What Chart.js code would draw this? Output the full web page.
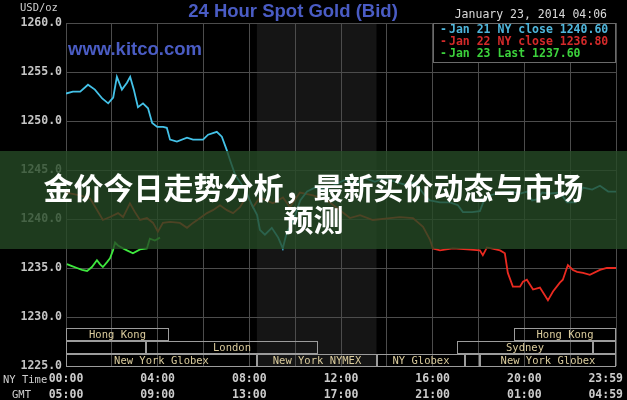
<!DOCTYPE html>
<html>
<head>
<meta charset="utf-8">
<script src="https://cdn.jsdelivr.net/npm/chart.js@4"></script>
<style>
html, body { margin: 0; padding: 0; background: #000; }
#wrap { position: relative; width: 627px; height: 400px; overflow: hidden; }
#banner {
    position: absolute; left: 0; top: 151px; width: 627px; height: 98px;
    background: rgba(38, 74, 38, 0.8); color: #fff; text-align: center;
    font: bold 30px "Noto Sans CJK SC", sans-serif; line-height: 32px;
    box-sizing: border-box; padding-top: 19px;
}
</style>
</head>
<body>
<div id="wrap">
    <canvas id="goldChart" width="627" height="400"></canvas>
    <div id="banner">金价今日走势分析，最新买价动态与市场<br>预测</div>
</div>
<script>
// hours since 00:00 NY time, price USD/oz
const jan21Hours = [0, 0.3, 0.62, 0.96, 1.26, 1.58, 1.84, 2.06, 2.22, 2.44, 2.66, 2.8, 2.96, 3.14, 3.36, 3.58, 3.76, 3.98, 4.24, 4.4, 4.54, 4.84, 5.28, 5.54, 5.98, 6.2, 6.58, 6.8, 7.02, 7.16, 7.38, 7.82, 8.12, 8.34, 8.46, 8.68, 8.98, 9.26, 9.46, 9.64, 9.9, 10.22, 10.52, 10.86, 11.3, 11.74, 12.18, 12.62, 13.04, 13.48, 13.92, 14.36, 14.8, 15.24, 15.66, 15.88, 16.32, 16.76, 17.1, 17.32, 17.72, 18.06, 18.24, 18.5, 18.94, 19.38, 19.82, 20.12, 20.34, 20.56, 20.78, 21.12, 21.56, 21.86, 22.22, 22.56, 22.96, 23.3, 23.66, 24];
const jan21Values = [1252.8, 1253.0, 1253.0, 1253.7, 1253.2, 1252.3, 1251.8, 1252.4, 1254.5, 1253.2, 1253.9, 1254.5, 1253.2, 1251.4, 1251.8, 1251.3, 1249.8, 1249.4, 1249.4, 1249.3, 1248.1, 1247.9, 1248.3, 1248.1, 1248.1, 1248.6, 1248.9, 1248.4, 1247.0, 1246.0, 1244.5, 1243.0, 1241.4, 1240.4, 1238.9, 1238.4, 1239.1, 1238.1, 1237.0, 1238.7, 1239.7, 1241.9, 1242.8, 1243.2, 1243.0, 1243.5, 1244.0, 1243.5, 1244.2, 1243.8, 1244.2, 1243.8, 1243.5, 1243.7, 1242.4, 1241.9, 1241.7, 1241.7, 1241.4, 1240.7, 1240.7, 1240.8, 1241.9, 1242.4, 1242.7, 1242.8, 1242.6, 1242.8, 1241.9, 1242.0, 1242.7, 1242.6, 1242.7, 1241.7, 1241.7, 1243.2, 1243.0, 1243.4, 1242.8, 1242.8];

const jan22Hours = [0, 0.61, 1.05, 1.18, 1.61, 1.92, 2.27, 2.49, 2.79, 3.01, 3.23, 3.53, 3.8, 4.01, 4.23, 4.54, 4.97, 5.28, 5.54, 5.85, 6.15, 6.41, 6.72, 7.02, 7.29, 7.59, 7.9, 8.16, 8.46, 9.03, 9.47, 9.77, 10.21, 10.78, 11.39, 11.95, 12.39, 12.83, 13.39, 14.14, 14.57, 15.14, 15.58, 15.88, 16.01, 16.32, 16.88, 17.5, 18.06, 18.19, 18.37, 18.94, 19.15, 19.28, 19.5, 19.81, 19.94, 20.11, 20.38, 20.68, 21.03, 21.25, 21.55, 21.68, 21.9, 22.12, 22.3, 22.56, 22.86, 23.3, 23.6, 24];
const jan22Values = [1242.7, 1242.4, 1242.1, 1241.6, 1239.9, 1240.2, 1240.6, 1240.2, 1241.6, 1240.7, 1239.9, 1240.1, 1239.6, 1238.7, 1239.6, 1239.7, 1239.6, 1239.1, 1239.6, 1240.1, 1240.6, 1240.9, 1241.4, 1240.9, 1240.6, 1241.2, 1242.4, 1241.2, 1242.2, 1241.6, 1242.2, 1241.2, 1242.7, 1242.4, 1241.9, 1240.9, 1240.1, 1240.4, 1239.9, 1240.1, 1240.2, 1240.1, 1239.2, 1237.9, 1237.0, 1236.8, 1237.0, 1236.9, 1236.8, 1236.3, 1237.1, 1236.8, 1236.5, 1234.5, 1233.1, 1233.1, 1233.6, 1233.8, 1232.8, 1233.0, 1231.7, 1232.6, 1233.5, 1233.8, 1235.3, 1234.8, 1234.6, 1234.5, 1234.3, 1234.8, 1235.0, 1235.0];

const jan23Hours = [0.04, 0.26, 0.48, 0.7, 0.92, 1.13, 1.35, 1.48, 1.61, 1.79, 1.92, 2.05, 2.14, 2.27, 2.49, 2.66, 2.92, 3.23, 3.53, 3.66, 3.88, 4.1];
const jan23Values = [1235.4, 1235.2, 1235.0, 1234.8, 1234.7, 1235.1, 1235.8, 1235.4, 1235.1, 1235.6, 1236.0, 1236.8, 1237.6, 1237.3, 1237.0, 1236.8, 1236.5, 1236.9, 1237.0, 1238.0, 1237.8, 1238.1];

const seriesLabels = ['Jan 21 NY close 1240.60', 'Jan 22 NY close 1236.80', 'Jan 23 Last 1237.60'];
const lineColors = ['#44c2e8', '#ea2a20', '#3ee83e'];
const legendColors = ['#4fb6dc', '#d42a2a', '#3cd23c'];

// x axis labels
const labelHours = [0, 4, 8, 12, 16, 20, 24];
const nyTimeLabels = ['00:00', '04:00', '08:00', '12:00', '16:00', '20:00', '23:59'];
const gmtLabels = ['05:00', '09:00', '13:00', '17:00', '21:00', '01:00', '04:59'];

// trading sessions (row 0 = bottom)
const sessionNames = ['Hong Kong', '', 'London', 'New York Globex', 'New York NYMEX', 'NY Globex', '', 'New York Globex', 'Sydney', '', 'Hong Kong'];
const sessionStart = [0, 0, 3.5, 0, 8.33, 13.55, 17.4, 18.05, 17.05, 23.0, 19.55];
const sessionEnd = [4.5, 3.5, 11.0, 8.33, 13.55, 17.4, 18.05, 24, 23.0, 24, 24];
const sessionRow = [2, 1, 1, 0, 0, 0, 0, 0, 1, 1, 2];
const nymexStart = 8.33, nymexEnd = 13.55;

const MONO = '"DejaVu Sans Mono", monospace';

function toPoints(hours, values) {
    return hours.map((h, i) => ({ x: h, y: values[i] }));
}

const decorPlugin = {
    id: 'decor',
    beforeDraw(chart) {
        const ctx = chart.ctx, a = chart.chartArea, xs = chart.scales.x;
        ctx.save();
        ctx.fillStyle = '#000';
        ctx.fillRect(0, 0, chart.width, chart.height);
        ctx.fillStyle = '#151515';
        const x0 = xs.getPixelForValue(nymexStart), x1 = xs.getPixelForValue(nymexEnd);
        ctx.fillRect(x0, a.top, x1 - x0, a.bottom - a.top);
        ctx.restore();
    },
    afterDatasetsDraw(chart) {
        const ctx = chart.ctx, a = chart.chartArea, xs = chart.scales.x;
        ctx.save();

        // sessions
        ctx.strokeStyle = '#9c9c9c';
        ctx.lineWidth = 1;
        ctx.font = '10.5px ' + MONO;
        ctx.textAlign = 'center';
        ctx.textBaseline = 'middle';
        sessionNames.forEach((name, i) => {
            const l = Math.round(xs.getPixelForValue(sessionStart[i]));
            const r = Math.round(xs.getPixelForValue(sessionEnd[i]));
            const top = Math.round(a.bottom) - 12 - sessionRow[i] * 13;
            ctx.strokeRect(l + 0.5, top + 0.5, r - l - 1, 12);
            if (name) {
                ctx.fillStyle = '#dacb9c';
                ctx.fillText(name, (l + r) / 2, top + 7);
            }
        });

        // legend box
        const lx = Math.round(xs.getPixelForValue(16));
        ctx.fillStyle = '#000';
        ctx.fillRect(lx, a.top, a.right - lx, 39);
        ctx.strokeStyle = '#6a6a6a';
        ctx.strokeRect(lx + 0.5, a.top + 0.5, a.right - lx - 1, 39);
        ctx.font = 'bold 11.5px ' + MONO;
        ctx.textAlign = 'left';
        chart.data.datasets.forEach((ds, i) => {
            ctx.fillStyle = legendColors[i];
            const y = a.top + 7 + i * 12;
            ctx.fillText('-', lx + 7, y);
            ctx.fillText(ds.label, lx + 16, y);
        });

        // titles
        ctx.font = 'bold 18.5px "Liberation Sans", Arial, sans-serif';
        ctx.fillStyle = '#4a5cc4';
        ctx.textAlign = 'center';
        ctx.fillText('24 Hour Spot Gold (Bid)', 293, 12);
        ctx.textAlign = 'left';
        ctx.fillText('www.kitco.com', 68, 50);

        ctx.font = '11.5px ' + MONO;
        ctx.fillStyle = '#dadada';
        ctx.textAlign = 'right';
        ctx.fillText('January 23, 2014 04:06', 607, 15);

        ctx.font = '10.5px ' + MONO;
        ctx.fillStyle = '#cfcfcf';
        ctx.textAlign = 'left';
        ctx.fillText('USD/oz', 20, 8);
        ctx.fillText('NY Time', 3, 380);
        ctx.fillText('GMT', 12, 395);

        // time labels
        ctx.font = 'bold 11.5px ' + MONO;
        ctx.fillStyle = '#cccccc';
        ctx.textAlign = 'center';
        labelHours.forEach((h, i) => {
            let x = xs.getPixelForValue(h);
            const w = ctx.measureText(nyTimeLabels[i]).width;
            x = Math.min(x, chart.width - 4 - w / 2);
            ctx.fillText(nyTimeLabels[i], x, 379);
            ctx.fillText(gmtLabels[i], x, 395);
        });
        ctx.restore();
    }
};

new Chart(document.getElementById('goldChart').getContext('2d'), {
    type: 'line',
    data: {
        datasets: [
            { label: seriesLabels[0], data: toPoints(jan21Hours, jan21Values), borderColor: lineColors[0] },
            { label: seriesLabels[1], data: toPoints(jan22Hours, jan22Values), borderColor: lineColors[1] },
            { label: seriesLabels[2], data: toPoints(jan23Hours, jan23Values), borderColor: lineColors[2] }
        ]
    },
    options: {
        responsive: false,
        animation: false,
        layout: { padding: { top: 23, right: 11, bottom: 34, left: 0 } },
        plugins: { legend: { display: false }, tooltip: { enabled: false } },
        elements: { point: { radius: 0 }, line: { borderWidth: 1.8, tension: 0 } },
        scales: {
            x: {
                type: 'linear', min: 0, max: 24,
                ticks: { display: false, stepSize: 2 },
                grid: { color: '#4c4c4c', drawTicks: false },
                border: { display: false }
            },
            y: {
                min: 1225, max: 1260,
                ticks: {
                    stepSize: 5, padding: 4, color: '#c6c6c6',
                    font: { family: MONO, size: 11.5, weight: 'bold' },
                    callback: v => v.toFixed(1)
                },
                grid: { color: '#4c4c4c', drawTicks: false },
                border: { display: false },
                afterFit(scale) { scale.width = 66; }
            }
        }
    },
    plugins: [decorPlugin]
});
</script>
</body>
</html>
